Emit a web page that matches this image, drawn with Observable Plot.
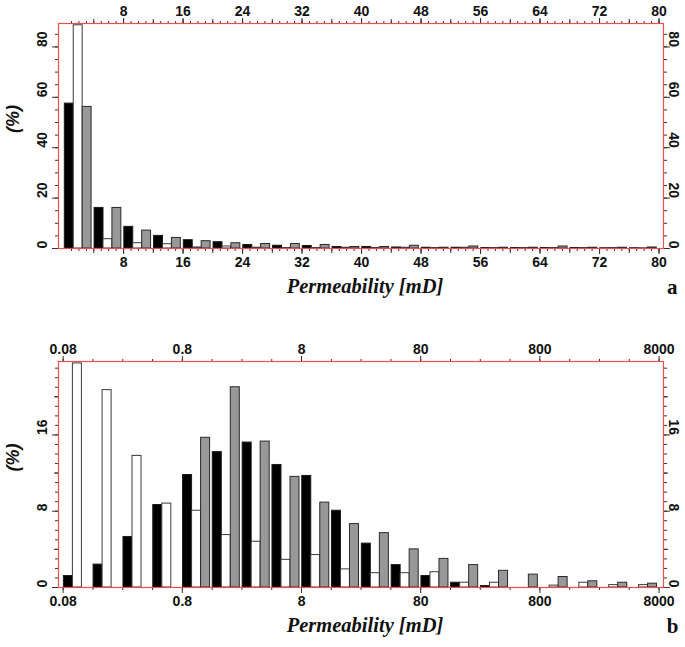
<!DOCTYPE html>
<html><head><meta charset="utf-8">
<script src="https://cdn.jsdelivr.net/npm/d3@7"></script>
<script src="https://cdn.jsdelivr.net/npm/@observablehq/plot@0.6"></script>
<style>body{margin:0;background:#fff} #chart svg{display:block;overflow:visible}</style>
</head><body><div id="chart"></div>
<script>
// ---- Panel a (linear permeability bins of 4 mD) ----
const binsA = [0,4,8,12,16,20,24,28,32,36,40,44,48,52,56,60,64,68,72,76];
const blackA = [57.5,16.1,8.6,5.0,3.3,2.5,1.4,1.1,1.0,0.6,0.6,0.4,0.3,0.3,0.2,0.2,0.2,0.2,0.1,0.1];
const whiteA = [88.6,3.7,2.1,1.7,0.4,0.8,0.3,0.2,0.2,0.3,0.2,0.3,0.2,0.3,0.2,0.2,0.2,0.2,0.2,0.1];
const grayA  = [56.2,16.1,7.1,4.2,2.9,2.1,1.8,1.8,1.4,0.6,0.6,1.1,0.3,0.8,0.3,0.3,0.8,0.3,0.3,0.4];
const xTicksA = [8,16,24,32,40,48,56,64,72,80];
const yTicksA = [0,20,40,60,80];

// ---- Panel b (log permeability bins, quarter decade) ----
const binsB = [0.08,0.142,0.253,0.45,0.8,1.42,2.53,4.5,8,14.2,25.3,45,80,142,253,450,800,1420,2530,4500];
const blackB = [1.2,2.4,5.3,8.65,11.8,14.2,15.2,12.85,11.7,8.05,4.6,2.35,1.2,0.5,0.15,0,0,0,0,0];
const whiteB = [23.5,20.7,13.8,8.8,8.05,5.5,4.8,2.9,3.4,1.9,1.5,1.5,1.6,0.5,0.5,0,0.2,0.5,0.25,0.25];
const grayB  = [0,0,0,0,15.7,21.0,15.3,11.6,8.9,6.65,5.7,4.0,3.0,2.35,1.75,1.35,1.1,0.65,0.5,0.4];
const xTicksB = ["0.08","0.8","8","80","800","8000"];
const yTicksB = [0,8,16];

const styles = [
  {fill: "#000000", stroke: "#1a1a1a"},
  {fill: "#ffffff", stroke: "#3a3a3a"},
  {fill: "#989898", stroke: "#2a2a2a"}
];
const FRAME = "#e8514c";
const TICK = "#333333";

function table(bins, series, pos) {
  const out = [];
  bins.forEach((s, i) => series.forEach((arr, j) => {
    const v = arr[i];
    if (v > 0) { const [x1, x2] = pos(s, j); out.push({x1, x2, v, j}); }
  }));
  return out;
}

function panel({height, marginTop, marginBottom, xScale, yDomain, rows, xMajor, xMid, xMinor, yMajor, yMid, yMinor, yLabels, letter, letterDx}) {
  const marks = [];
  for (let j = 0; j < 3; j++) {
    marks.push(Plot.rect(rows.filter(d => d.j === j), {x1: "x1", x2: "x2", y1: 0, y2: "v", fill: styles[j].fill, stroke: styles[j].stroke, strokeWidth: 1}));
  }
  const xMajorNum = xMajor.map(Number);
  for (const anchor of ["top", "bottom"]) {
    marks.push(Plot.axisX({anchor, ticks: xMinor, tickSize: 3, tickFormat: () => "", label: null, stroke: TICK}));
    if (xMid) marks.push(Plot.axisX({anchor, ticks: xMid, tickSize: 5, tickFormat: () => "", label: null, stroke: TICK}));
    marks.push(Plot.axisX({anchor, ticks: xMajorNum, tickSize: 6, tickFormat: () => "", label: null, stroke: TICK}));
  }
  marks.push(Plot.text(xMajor, {x: d => +d, text: d => String(d), frameAnchor: "bottom", dy: 18, fontSize: 14, fontWeight: "bold", fill: "#111"}));
  marks.push(Plot.text(xMajor, {x: d => +d, text: d => String(d), frameAnchor: "top", dy: -17, fontSize: 14, fontWeight: "bold", fill: "#111"}));
  for (const anchor of ["left", "right"]) {
    marks.push(Plot.axisY({anchor, ticks: yMinor, tickSize: 3, tickFormat: () => "", label: null, stroke: TICK}));
    if (yMid) marks.push(Plot.axisY({anchor, ticks: yMid, tickSize: 4, tickFormat: () => "", label: null, stroke: TICK}));
    marks.push(Plot.axisY({anchor, ticks: yMajor, tickSize: 6, tickFormat: () => "", label: null, stroke: TICK}));
  }
  marks.push(Plot.text(yLabels, {y: d => d, text: d => String(d), frameAnchor: "left", dx: -16, rotate: -90, fontSize: 14, fontWeight: "bold", fill: "#111"}));
  marks.push(Plot.text(yLabels, {y: d => d, text: d => String(d), frameAnchor: "right", dx: 10, rotate: 90, fontSize: 14, fontWeight: "bold", fill: "#111"}));
  marks.push(Plot.text(["(%)"], {text: d => d, frameAnchor: "left", dx: -45, dy: -3, rotate: -90, fontSize: 18, fontWeight: "bold", fontStyle: "italic", fill: "#111"}));
  marks.push(Plot.text(["Permeability [mD]"], {text: d => d, frameAnchor: "bottom", dx: 4, dy: 44, fontFamily: "Liberation Serif", fontSize: 20.5, fontWeight: "bold", fontStyle: "italic", fill: "#111"}));
  marks.push(Plot.text([letter], {text: d => d, frameAnchor: "bottom-right", dx: letterDx, dy: 45, fontFamily: "Liberation Serif", fontSize: 21, fill: "#111"}));
  marks.push(Plot.frame({stroke: FRAME, strokeWidth: 1.2}));
  return Plot.plot({
    width: 685, height, marginTop, marginBottom, marginLeft: 58, marginRight: 22,
    x: xScale, y: {domain: yDomain},
    style: {fontFamily: "Liberation Sans, Arial, sans-serif", fontSize: "13px", fontWeight: "bold", color: "#111", background: "#fff", overflow: "visible"},
    marks
  });
}

// Panel a geometry
const rowsA = table(binsA, [blackA, whiteA, grayA], (s, j) => [s + 0.1 + j * 1.2, s + 0.1 + (j + 1) * 1.2]);
const chartA = panel({
  height: 310, marginTop: 23, marginBottom: 62,
  xScale: {domain: [-0.75, 80.6]}, yDomain: [0, 89.3], rows: rowsA,
  xMajor: xTicksA, xMid: d3.range(4, 81, 4), xMinor: d3.range(1, 81, 1),
  yMajor: yTicksA, yMid: null, yMinor: d3.range(0, 90, 5), yLabels: yTicksA,
  letter: "a", letterDx: 14
});

// Panel b geometry (log)
const w = 0.0756;
const rowsB = table(binsB, [blackB, whiteB, grayB], (s, j) => [s * Math.pow(10, 0.006 + j * w), s * Math.pow(10, 0.006 + (j + 1) * w)]);
const chartB = panel({
  height: 337, marginTop: 51, marginBottom: 60,
  xScale: {type: "log", domain: [0.0731, 8714]}, yDomain: [0, 23.7], rows: rowsB,
  xMajor: xTicksB, xMid: null, xMinor: d3.range(0, 21).map(k => 0.08 * Math.pow(10, k / 4)),
  yMajor: yTicksB, yMid: [4, 12, 20], yMinor: d3.range(0, 24, 1), yLabels: yTicksB,
  letter: "b", letterDx: 15
});

document.getElementById("chart").append(chartA, chartB);
</script>
</body></html>
